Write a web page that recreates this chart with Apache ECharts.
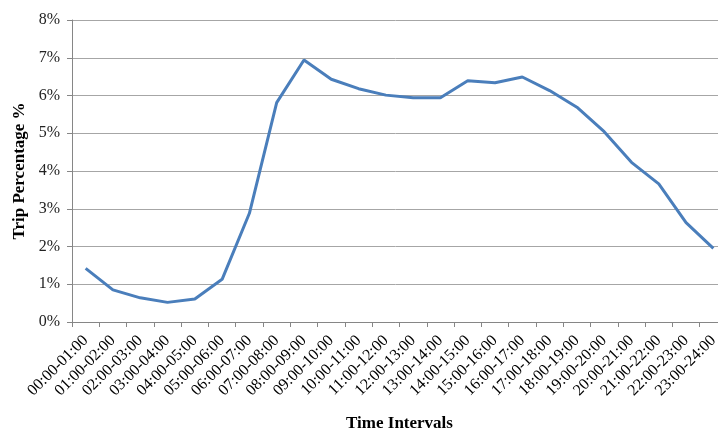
<!DOCTYPE html>
<html>
<head>
<meta charset="utf-8">
<script src="https://cdn.jsdelivr.net/npm/echarts@6/dist/echarts.min.js"></script>
<style>html,body{margin:0;padding:0;background:#fff;}#c{width:718px;height:430px;}</style>
</head>
<body>
<div id="c"></div>
<script>
const categories = ["00:00-01:00","01:00-02:00","02:00-03:00","03:00-04:00","04:00-05:00","05:00-06:00","06:00-07:00","07:00-08:00","08:00-09:00","09:00-10:00","10:00-11:00","11:00-12:00","12:00-13:00","13:00-14:00","14:00-15:00","15:00-16:00","16:00-17:00","17:00-18:00","18:00-19:00","19:00-20:00","20:00-21:00","21:00-22:00","22:00-23:00","23:00-24:00"];
const tripPercent = [1.42,0.85,0.64,0.52,0.61,1.13,2.88,5.81,6.94,6.43,6.18,6.01,5.94,5.94,6.39,6.34,6.49,6.13,5.69,5.04,4.23,3.66,2.63,1.95];
const yTicks = [0,1,2,3,4,5,6,7,8];

const font = "'Liberation Serif','Times New Roman',serif";
const chart = echarts.init(document.getElementById('c'), null, {renderer:'canvas'});
chart.setOption({
  animation:false,
  grid:{left:72, right:-9, top:20, bottom:108, containLabel:false, outerBoundsMode:'none'},
  xAxis:{
    type:'category', data:categories, boundaryGap:true,
    name:'Time Intervals', nameLocation:'middle', nameGap:93,
    nameTextStyle:{fontFamily:font, fontSize:17, fontWeight:'bold', color:'#000'},
    axisLine:{lineStyle:{color:'#868686', width:1}},
    axisTick:{show:true, length:5, lineStyle:{color:'#868686'}},
    axisLabel:{rotate:45, interval:0, fontFamily:font, fontSize:16, color:'#000', margin:16, hideOverlap:false}
  },
  yAxis:{
    type:'value', min:yTicks[0], max:yTicks[yTicks.length-1], interval:1,
    name:'Trip Percentage %', nameLocation:'middle', nameGap:38, nameRotate:90,
    nameTextStyle:{fontFamily:font, fontSize:17, fontWeight:'bold', color:'#000'},
    axisLine:{show:true, lineStyle:{color:'#868686'}},
    axisTick:{show:true, length:5, lineStyle:{color:'#868686'}},
    axisLabel:{formatter:v=>v+'%', fontFamily:font, fontSize:16, color:'#222', margin:12},
    splitLine:{lineStyle:{color:'#a6a6a6', width:1}}
  },
  series:[{
    type:'line', data:tripPercent, symbol:'none', smooth:false,
    lineStyle:{color:'#4a7ebb', width:3}
  }]
});
</script>
</body>
</html>
